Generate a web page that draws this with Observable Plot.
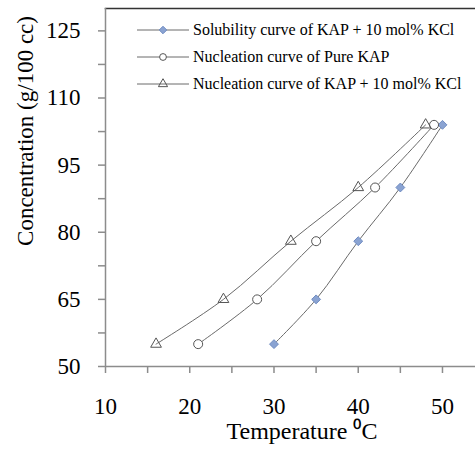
<!DOCTYPE html>
<html><head><meta charset="utf-8">
<script src="https://cdn.jsdelivr.net/npm/d3@7"></script>
<script src="https://cdn.jsdelivr.net/npm/@observablehq/plot@0.6"></script>
<style>body{margin:0;background:#fff;}</style>
</head><body><div id="chart"></div>
<script>
// Data
const concentration = [55, 65, 78, 90, 104];
const solubilityKAPKCl = [30, 35, 40, 45, 50];
const nucleationPureKAP = [21, 28, 35, 42, 49];
const nucleationKAPKCl = [16, 24, 32, 40, 48];
const seriesNames = [
  "Solubility curve of KAP + 10 mol% KCl",
  "Nucleation curve of Pure KAP",
  "Nucleation curve of KAP + 10 mol% KCl"
];
const xTicks = [10, 20, 30, 40, 50];
const xMinorTicks = [15, 25, 35, 45];
const yTicks = [50, 65, 80, 95, 110, 125];
const yMinorTicks = [57.5, 72.5, 87.5, 102.5, 117.5];
const xTitle = "Temperature \u2070C";
const yTitle = "Concentration (g/100 cc)";

const seriesTemps = [solubilityKAPKCl, nucleationPureKAP, nucleationKAPKCl];
const rows = seriesTemps.flatMap((temps, s) =>
  temps.map((t, i) => ({series: seriesNames[s], T: t, C: concentration[i]})));
const bySeries = s => rows.filter(d => d.series === seriesNames[s]);

const axisGrey = "#8c8c8c";
const lineGrey = "#6a6a6a";
const blueFill = "#8aa3d2";
const blueStroke = "#6f8cc2";

const markStyles = [
  {symbol: "diamond2", r: 4, fill: blueFill, stroke: blueStroke, strokeWidth: 1},
  {symbol: "circle", r: 4.5, fill: "white", stroke: "#555", strokeWidth: 1},
  {symbol: "triangle", r: 4, fill: "none", stroke: "#555", strokeWidth: 1}
];

const plot = Plot.plot({
  width: 475,
  height: 475,
  marginLeft: 105,
  marginRight: 0,
  marginTop: 8,
  marginBottom: 109,
  style: {fontFamily: "'Liberation Serif', 'Times New Roman', serif", background: "white", color: "black"},
  x: {domain: [10, 53.92], label: null},
  y: {domain: [50, 130], label: null},
  marks: [
    Plot.frame({anchor: "top", stroke: "#333", strokeWidth: 1.5}),
    Plot.ruleX([10], {stroke: axisGrey, strokeWidth: 1.5}),
    Plot.ruleY([50], {stroke: axisGrey, strokeWidth: 1.5}),
    Plot.axisX(xTicks, {tickSize: 7, tickPadding: 24, stroke: axisGrey, strokeWidth: 1.5, fill: "black", fontSize: 23, label: null}),
    Plot.axisX(xMinorTicks, {tickSize: 7, stroke: axisGrey, strokeWidth: 1.5, tickFormat: () => "", label: null}),
    Plot.axisY(yTicks, {tickSize: 7, tickPadding: 18, stroke: axisGrey, strokeWidth: 1.5, fill: "black", fontSize: 23, label: null}),
    Plot.axisY(yMinorTicks, {tickSize: 7, stroke: axisGrey, strokeWidth: 1.5, tickFormat: () => "", label: null}),
    ...seriesNames.map((name, s) =>
      Plot.line(bySeries(s), {x: "T", y: "C", curve: "catmull-rom", stroke: lineGrey, strokeWidth: 1})),
    ...seriesNames.map((name, s) =>
      Plot.dot(bySeries(s), {x: "T", y: "C", ...markStyles[s]})),
    Plot.text([xTitle], {frameAnchor: "bottom-left", textAnchor: "start", dx: 121, dy: 72, fontSize: 24, fill: "black"})
  ]
});

const svg = d3.select(plot);
// Y axis title
svg.append("text")
  .attr("transform", "translate(26,131) rotate(-90)")
  .attr("text-anchor", "middle").attr("dy", "0.32em")
  .attr("font-size", 23).attr("fill", "black").text(yTitle);

// Legend inside the plot area
const legend = svg.append("g").attr("transform", "translate(137,30)");
const symbolMap = {diamond2: d3.symbolDiamond2, circle: d3.symbolCircle, triangle: d3.symbolTriangle};
const legendR = 3.4;
seriesNames.forEach((name, s) => {
  const g = legend.append("g").attr("transform", `translate(0,${s * 27})`);
  g.append("line").attr("x1", 0).attr("x2", 52).attr("y1", 0).attr("y2", 0)
    .attr("stroke", lineGrey).attr("stroke-width", 1);
  const st = markStyles[s];
  g.append("path").attr("transform", "translate(26,0)")
    .attr("d", d3.symbol(symbolMap[st.symbol], legendR * legendR * Math.PI)())
    .attr("fill", st.fill).attr("stroke", st.stroke).attr("stroke-width", st.strokeWidth);
  g.append("text").attr("x", 56).attr("y", 0).attr("dy", "0.32em")
    .attr("text-anchor", "start")
    .attr("font-size", 16).attr("fill", "black").text(name);
});

document.getElementById("chart").appendChild(plot);
</script>
</body></html>
